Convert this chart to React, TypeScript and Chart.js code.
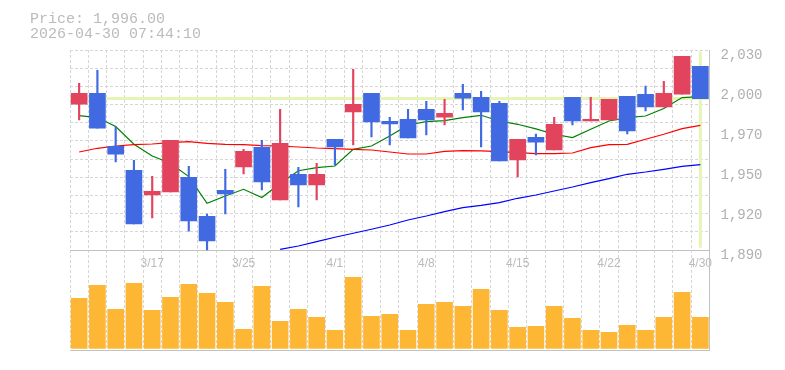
import React, { useEffect, useRef } from "react";
import { Chart, registerables } from "chart.js";

Chart.register(...registerables);

// ---- data ----
const DATES = [
  "3/11", "3/12", "3/13", "3/16", "3/17", "3/18", "3/19", "3/23", "3/24", "3/25",
  "3/26", "3/27", "3/30", "3/31", "4/1", "4/2", "4/3", "4/6", "4/7", "4/8",
  "4/9", "4/10", "4/13", "4/14", "4/15", "4/16", "4/17", "4/20", "4/21", "4/22",
  "4/23", "4/24", "4/27", "4/28", "4/30",
];
const X_TICK_LABELS = ["3/17", "3/25", "4/1", "4/8", "4/15", "4/22", "4/30"];

const OPEN = [
  1992.0, 1999.7, 1962.6, 1945.8, 1928.5, 1930.6, 1940.9, 1913.6, 1931.8, 1948.1,
  1961.9, 1925.0, 1943.0, 1935.5, 1967.5, 1986.6, 1999.7, 1980.1, 1981.5, 1988.5,
  1982.9, 1999.7, 1996.9, 1992.7, 1953.0, 1968.9, 1960.0, 1996.9, 1980.3, 1981.0,
  1997.6, 1999.0, 1990.1, 1999.0, 2018.6,
];
const HIGH = [
  2006.7, 2015.8, 1976.4, 1952.8, 1941.6, 1966.8, 1948.6, 1915.2, 1946.5, 1960.5,
  1966.8, 1988.5, 1947.9, 1950.7, 1967.5, 2016.5, 1999.7, 1982.9, 1988.5, 1994.1,
  1995.5, 2006.0, 2001.1, 1994.1, 1967.5, 1971.2, 1982.9, 1996.9, 1996.9, 1995.5,
  1997.6, 2004.8, 2008.1, 2025.6, 2018.6,
];
const LOW = [
  1981.0, 1975.2, 1951.6, 1908.2, 1912.4, 1930.6, 1903.1, 1890.0, 1915.2, 1943.2,
  1932.0, 1925.0, 1920.1, 1925.0, 1949.5, 1963.5, 1969.1, 1963.5, 1968.4, 1970.5,
  1977.5, 1988.0, 1962.1, 1952.3, 1941.1, 1956.5, 1960.0, 1977.5, 1980.3, 1981.0,
  1971.2, 1987.3, 1990.1, 1999.0, 1996.0,
];
const CLOSE = [
  1999.7, 1975.2, 1957.0, 1908.2, 1931.1, 1966.8, 1910.3, 1896.3, 1929.2, 1959.1,
  1937.6, 1964.7, 1935.5, 1943.0, 1962.1, 1992.0, 1979.6, 1978.2, 1968.4, 1981.0,
  1985.7, 1996.2, 1986.6, 1952.3, 1967.5, 1965.4, 1978.0, 1980.3, 1981.5, 1995.5,
  1973.3, 1990.1, 1999.7, 2025.6, 1996.0,
];
const MA_SHORT = [
  1984.1, 1982.7, 1976.4, 1964.0, 1955.8, 1950.7, 1941.4, 1922.7, 1927.8, 1932.5,
  1926.7, 1936.5, 1945.5, 1947.7, 1948.8, 1960.5, 1962.8, 1969.8, 1977.5, 1979.9,
  1980.5, 1982.7, 1984.3, 1980.3, 1978.0, 1974.8, 1971.0, 1968.7, 1974.5, 1980.3,
  1982.7, 1983.8, 1989.0, 1996.7, 1997.4,
];
const MA_MID = [
  1958.6, 1961.2, 1962.8, 1963.8, 1964.2, 1965.2, 1965.9, 1964.7, 1964.0, 1963.8,
  1963.1, 1962.8, 1962.1, 1961.4, 1961.0, 1960.5, 1960.0, 1958.6, 1957.2, 1957.2,
  1959.1, 1959.6, 1959.4, 1958.9, 1958.2, 1957.5, 1957.5, 1957.9, 1961.7, 1963.8,
  1964.0, 1967.5, 1971.0, 1975.0, 1977.3,
];
const MA_LONG = [
  null, null, null, null, null, null, null, null, null, null,
  null, 1890.5, 1892.8, 1895.9, 1898.9, 1901.7, 1904.5, 1907.5, 1911.0, 1913.8,
  1916.9, 1919.7, 1921.2, 1923.2, 1926.2, 1928.5, 1931.3, 1934.1, 1937.2, 1940.0,
  1943.0, 1944.6, 1946.5, 1948.6, 1949.8,
];
const VOLUME = [
  50000, 63000, 39000, 65000, 38000, 51000, 64000, 55000, 46000, 19000,
  62000, 27000, 39000, 31000, 18000, 71000, 32000, 34000, 18000, 44000,
  46000, 42000, 59000, 38000, 21000, 22000, 42000, 30000, 18000, 16000,
  23000, 18000, 31000, 56000, 31000,
];
const LAST_PRICE = 1996;
const PRICE_TICKS = [1890, 1918, 1946, 1974, 2002, 2030];
const PRICE_LABELS = ["1,890", "1,920", "1,950", "1,970", "2,000", "2,030"];
const TITLE_LINES = ["Price: 1,996.00", "2026-04-30 07:44:10"];

// ---- layout constants (pixels) ----
const W = 785;
const H = 370;
const AREA_TOP = 50;
const PANE_SPLIT = 250;
const AREA_BOTTOM = 350;
const PRICE_MIN = 1890;
const PRICE_MAX = 2030;
const PX_PER_PRICE = (PANE_SPLIT - AREA_TOP) / (PRICE_MAX - PRICE_MIN);
const PRICE_AXIS_MIN = PRICE_MIN - (AREA_BOTTOM - PANE_SPLIT) / PX_PER_PRICE;
const GRID_STEPS = 11;
const VOL_PER_PX = 1000;
const VOL_ZERO_PX = 348.3;

const RED = "#e2445e";
const BLUE = "#4169e1";
const GRID = "#d6d6d6";
const FRAME = "#c2c2c2";
const CROSS = "#e6f5b5";

export default function App() {
  const ref = useRef<HTMLCanvasElement>(null);

  useEffect(() => {
    const n = DATES.length;
    const up = CLOSE.map((c, i) => c >= OPEN[i]);
    const colors = up.map((u) => (u ? RED : BLUE));
    const bodies = OPEN.map((o, i) => [o, CLOSE[i]]);
    const wicks = LOW.map((l, i) => [l, HIGH[i]]);
    const clipPane = { left: 0, top: 0, right: 0, bottom: -(AREA_BOTTOM - PANE_SPLIT) };

    const chart = new Chart(ref.current as HTMLCanvasElement, {
      type: "bar",
      data: {
        labels: DATES,
        datasets: [
          {
            type: "line",
            xAxisID: "xl",
            yAxisID: "y",
            data: [
              { x: -0.5, y: LAST_PRICE },
              { x: n - 0.5, y: LAST_PRICE },
            ],
            borderColor: CROSS,
            borderWidth: 3,
            pointRadius: 0,
            order: 10,
          } as any,
          {
            type: "line",
            xAxisID: "xl",
            yAxisID: "y",
            data: [
              { x: n - 1, y: PRICE_MIN + 1.5 },
              { x: n - 1, y: PRICE_MAX - 1 },
            ],
            borderColor: CROSS,
            borderWidth: 3,
            pointRadius: 0,
            order: 10,
          } as any,
          {
            type: "line",
            yAxisID: "y",
            data: MA_LONG,
            borderColor: "#0000ff",
            borderWidth: 1.2,
            pointRadius: 0,
            clip: clipPane,
            order: 5,
          } as any,
          {
            type: "line",
            yAxisID: "y",
            data: MA_MID,
            borderColor: "#ff0000",
            borderWidth: 1.2,
            pointRadius: 0,
            clip: clipPane,
            order: 5,
          } as any,
          {
            type: "line",
            yAxisID: "y",
            data: MA_SHORT,
            borderColor: "#008000",
            borderWidth: 1.2,
            pointRadius: 0,
            clip: clipPane,
            order: 5,
          } as any,
          {
            type: "bar",
            yAxisID: "vol",
            data: VOLUME,
            backgroundColor: "#fdb735",
            barThickness: 16,
            grouped: false,
            order: 3,
          } as any,
          {
            type: "bar",
            yAxisID: "y",
            data: wicks,
            backgroundColor: colors,
            barThickness: 1.5,
            grouped: false,
            order: 1,
          } as any,
          {
            type: "bar",
            yAxisID: "y",
            data: bodies,
            backgroundColor: colors,
            barThickness: 16,
            grouped: false,
            order: 0,
          } as any,
        ],
      },
      options: {
        responsive: false,
        animation: false,
        devicePixelRatio: 1,
        events: [],
        layout: { padding: { left: 30, right: 0, top: 0, bottom: H - AREA_BOTTOM } },
        plugins: {
          legend: { display: false },
          tooltip: { enabled: false },
          title: {
            display: true,
            text: TITLE_LINES,
            align: "start",
            color: "#bbbbbb",
            font: { family: "Liberation Mono", size: 15, lineHeight: 1, weight: "normal" },
            padding: { top: 12, bottom: AREA_TOP - 30 - 12 },
          },
        },
        scales: {
          x: {
            type: "category",
            offset: true,
            position: { y: PRICE_MIN },
            grid: { offset: true, color: GRID, drawTicks: false, lineWidth: 1 },
            border: { display: true, color: FRAME, dash: [3, 2] },
            ticks: {
              autoSkip: false,
              maxRotation: 0,
              minRotation: 0,
              padding: 6,
              color: "#bbbbbb",
              font: { family: "Liberation Sans", size: 12 },
              callback: (_v: any, i: number) =>
                X_TICK_LABELS.includes(DATES[i]) ? DATES[i] : "",
            },
          } as any,
          xb: {
            type: "category",
            position: "bottom",
            offset: true,
            grid: { display: false, drawTicks: false },
            ticks: { display: false },
            border: { display: true, color: FRAME },
            afterFit: (s: any) => {
              s.height = 0;
            },
          } as any,
          xl: {
            type: "linear",
            display: false,
            offset: false,
            grace: 0,
            bounds: "data",
            min: -0.5,
            max: n - 0.5,
          } as any,
          g: {
            type: "linear",
            position: "left",
            min: -GRID_STEPS * (AREA_BOTTOM - PANE_SPLIT) / (PANE_SPLIT - AREA_TOP),
            max: GRID_STEPS,
            grid: {
              drawTicks: false,
              lineWidth: 1,
              color: (ctx: any) => (ctx.tick && ctx.tick.value > 0 ? GRID : "rgba(0,0,0,0)"),
            },
            border: { display: false, dash: [3, 2] },
            ticks: { display: false },
            afterBuildTicks: (s: any) => {
              const t = [];
              for (let k = 0; k <= GRID_STEPS; k++) t.push({ value: k });
              s.ticks = t;
            },
            afterFit: (s: any) => {
              s.width = 40;
            },
          } as any,
          y: {
            type: "linear",
            position: "right",
            min: PRICE_AXIS_MIN,
            max: PRICE_MAX,
            grid: { display: false, drawTicks: false },
            border: { display: true, color: FRAME },
            ticks: {
              padding: 11,
              labelOffset: 5,
              color: "#b0b0b0",
              font: { family: "Liberation Mono", size: 14 },
              callback: (v: any) => {
                const idx = PRICE_TICKS.indexOf(v);
                return idx >= 0 ? PRICE_LABELS[idx] : "";
              },
            },
            afterBuildTicks: (s: any) => {
              s.ticks = PRICE_TICKS.map((v) => ({ value: v }));
            },
            afterFit: (s: any) => {
              s.width = 75.5;
            },
          } as any,
          vol: {
            type: "linear",
            display: false,
            min: -(AREA_BOTTOM - VOL_ZERO_PX) * VOL_PER_PX,
            max: (VOL_ZERO_PX - AREA_TOP) * VOL_PER_PX,
          },
        },
      } as any,
    });
    return () => chart.destroy();
  }, []);

  return (
    <div style={{ position: "absolute", left: 0, top: 0, width: W, height: H, background: "#fff" }}>
      <canvas ref={ref} width={W} height={H} style={{ display: "block", width: W, height: H }} />
    </div>
  );
}
